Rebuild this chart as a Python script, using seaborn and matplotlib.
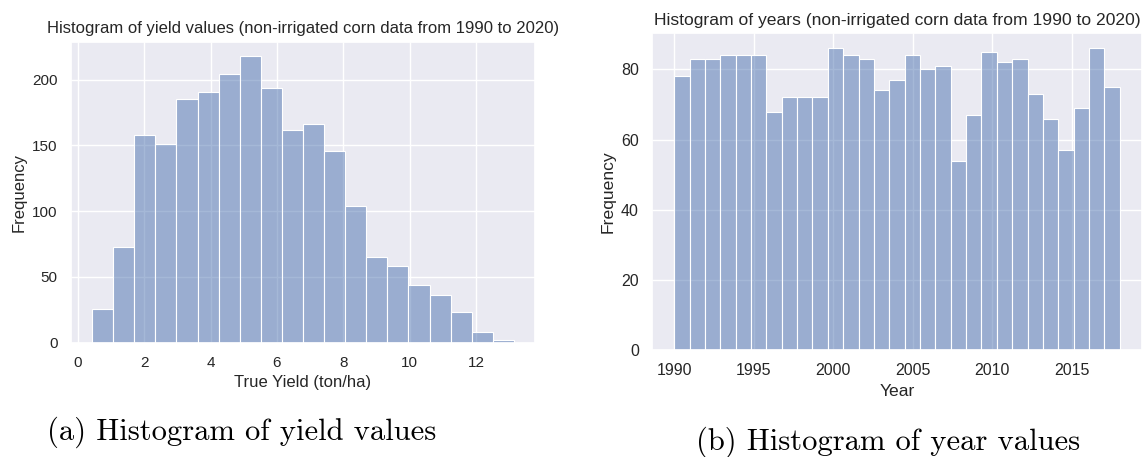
import numpy as np
import pandas as pd
import matplotlib
matplotlib.use("Agg")
import matplotlib.pyplot as plt
import seaborn as sns

# Yield histogram: 20 equal-width bins starting at the smallest yield
yield_bin_start = 0.43
yield_bin_width = 0.6355
yield_counts = [26, 73, 158, 151, 185, 191, 204, 218, 194, 162,
                166, 146, 104, 65, 58, 44, 36, 23, 8, 2]

# Year histogram: one bin per year of the record
years = list(range(1990, 2019))
year_counts = [78, 83, 83, 84, 84, 84, 68, 72, 72, 72,
               86, 84, 83, 74, 77, 84, 80, 81, 54, 67,
               85, 82, 83, 73, 66, 57, 69, 86, 75]

title_yield = "Histogram of yield values (non-irrigated corn data from 1990 to 2020)"
title_years = "Histogram of years (non-irrigated corn data from 1990 to 2020)"
caption_a = "(a) Histogram of yield values"
caption_b = "(b) Histogram of year values"

sns.set_theme(style="darkgrid")
plt.rcParams["font.family"] = ["Liberation Sans", "DejaVu Sans"]

fig = plt.figure(figsize=(11.43, 4.57), dpi=100)

# Left panel
n_yield = len(yield_counts)
yield_edges = yield_bin_start + yield_bin_width * np.arange(n_yield + 1)
yield_centers = (yield_edges[:-1] + yield_edges[1:]) / 2
df_yield = pd.DataFrame({"yield": yield_centers, "count": yield_counts})

ax1 = fig.add_axes([0.0621, 0.2501, 0.406, 0.6586])
sns.histplot(data=df_yield, x="yield", weights="count", bins=n_yield,
             binrange=(float(yield_edges[0]), float(yield_edges[-1])),
             color="#4C72B0", alpha=0.5, edgecolor="white", linewidth=0.8, ax=ax1)
s1 = 1.0
ax1.set_title(title_yield, fontsize=12 * s1)
ax1.set_xlabel("True Yield (ton/ha)", fontsize=12 * s1)
ax1.set_ylabel("Frequency", fontsize=12 * s1)
ax1.tick_params(labelsize=11 * s1)

# Right panel
df_years = pd.DataFrame({"year": years, "count": year_counts})
ax2 = fig.add_axes([0.5704, 0.2341, 0.4287, 0.693])
sns.histplot(data=df_years, x="year", weights="count", bins=len(years),
             color="#4C72B0", alpha=0.5, edgecolor="white", linewidth=0.8, ax=ax2)
s2 = 1.05
ax2.set_title(title_years, fontsize=12 * s2)
ax2.set_xlabel("Year", fontsize=12 * s2)
ax2.set_ylabel("Frequency", fontsize=12 * s2)
ax2.tick_params(labelsize=11 * s2)

# Sub-figure captions
fig.text(242 / 1143, 1 - 432 / 457, caption_a, family="cmr10", fontsize=22,
         ha="center", va="center", color="black")
fig.text(888 / 1143, 1 - 442 / 457, caption_b, family="cmr10", fontsize=22,
         ha="center", va="center", color="black")

fig.savefig("out.png", dpi=100, facecolor="white")
